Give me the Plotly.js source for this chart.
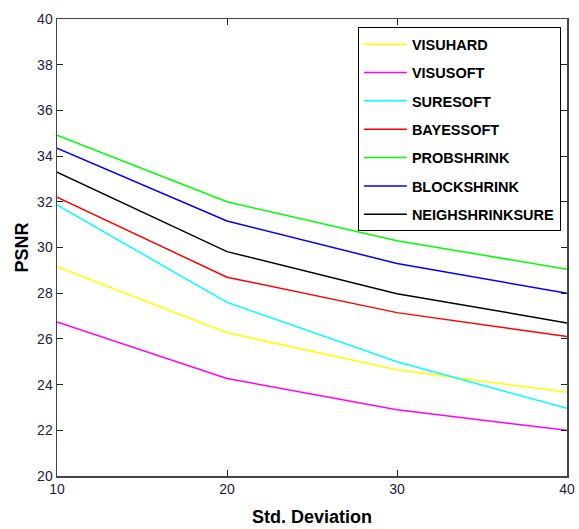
<!DOCTYPE html>
<html>
<head>
<meta charset="utf-8">
<script src="https://cdn.plot.ly/plotly-3.0.1.min.js"></script>
<style>html,body{margin:0;padding:0;background:#fff;}#chart{width:579px;height:529px;}</style>
</head>
<body>
<div id="chart"></div>
<script>
const stdDev = [10, 20, 30, 40];
const visuhard = [29.16, 26.27, 24.65, 23.66];
const visusoft = [26.74, 24.27, 22.9, 22.0];
const suresoft = [31.86, 27.6, 25.0, 22.96];
const bayessoft = [32.2, 28.7, 27.15, 26.1];
const probshrink = [34.92, 32.0, 30.3, 29.05];
const blockshrink = [34.35, 31.16, 29.3, 28.0];
const neighshrinksure = [33.3, 29.82, 27.98, 26.7];
const seriesNames = ['VISUHARD','VISUSOFT','SURESOFT','BAYESSOFT','PROBSHRINK','BLOCKSHRINK','NEIGHSHRINKSURE'];
const seriesColors = ['#ffff00','#ff00ff','#00ffff','#ff0000','#00ff00','#0000ff','#000000'];
const seriesData = [visuhard, visusoft, suresoft, bayessoft, probshrink, blockshrink, neighshrinksure];

const traces = seriesData.map((ys, i) => ({
  x: stdDev, y: ys, type: 'scatter', mode: 'lines',
  name: seriesNames[i], legendgroup: 'g' + i,
  line: {color: seriesColors[i], width: 1.5}
}));

const tickFont = {family: 'Liberation Sans, Arial, sans-serif', size: 14, color: '#1c1c3c'};
const layout = {
  width: 579, height: 529,
  margin: {l: 57, r: 12, t: 19, b: 53},
  paper_bgcolor: '#fff', plot_bgcolor: '#fff',
  showlegend: true,
  xaxis: {
    range: [10, 40], tickvals: [10, 20, 30, 40], ticks: 'inside', ticklen: 6,
    tickcolor: '#222', showgrid: false, zeroline: false,
    showline: true, linecolor: '#444', linewidth: 1.5, mirror: 'ticks',
    tickfont: tickFont,
    title: {text: '<b>Std. Deviation</b>', font: {family: 'Liberation Sans, Arial, sans-serif', size: 18, color: '#000'}, standoff: 14}
  },
  yaxis: {
    range: [20, 40], tickvals: [20,22,24,26,28,30,32,34,36,38,40], ticks: 'inside', ticklen: 6,
    tickcolor: '#222', showgrid: false, zeroline: false,
    showline: true, linecolor: '#444', linewidth: 1.5, mirror: 'ticks',
    tickfont: tickFont,
    title: {text: '<b>PSNR</b>', font: {family: 'Liberation Sans, Arial, sans-serif', size: 18, color: '#000'}, standoff: 4}
  },
  legend: {
    x: 0.59, y: 0.982, xanchor: 'left', yanchor: 'top',
    bgcolor: '#fff', bordercolor: '#000', borderwidth: 1,
    font: {family: 'Liberation Sans, Arial, sans-serif', size: 14.5, color: '#000', weight: 'bold'},
    tracegroupgap: 6.5, itemwidth: 43
  }
};
Plotly.newPlot('chart', traces, layout, {displayModeBar: false, staticPlot: true});
</script>
</body>
</html>
